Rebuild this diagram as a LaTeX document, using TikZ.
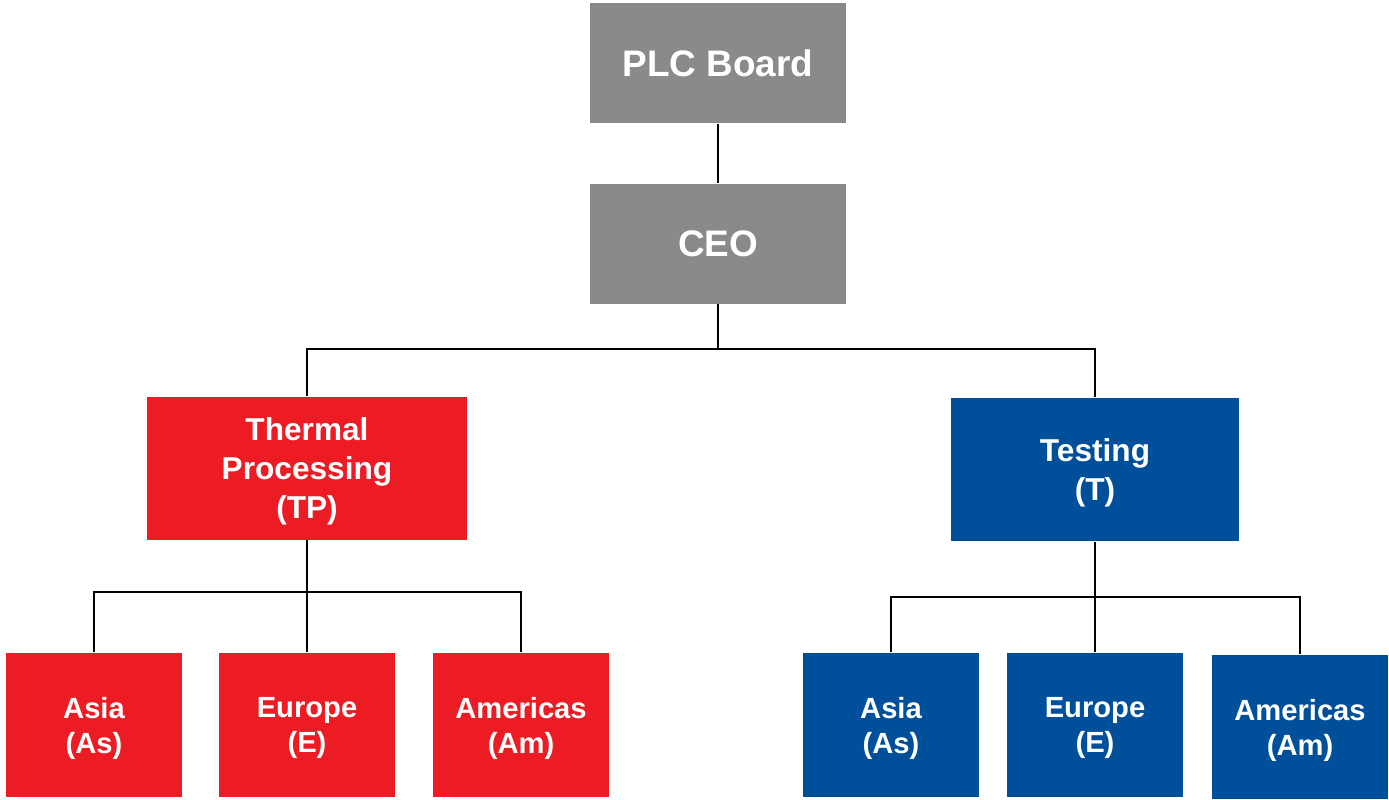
\documentclass[tikz,border=0pt]{standalone}
\usepackage{fontspec}
\setmainfont{Liberation Sans}
\definecolor{plcgray}{RGB}{137,138,140}
\definecolor{tpred}{RGB}{237,28,36}
\definecolor{tblue}{RGB}{0,79,154}
\tikzset{
    unit/.style={rectangle, fill=#1, text=white, inner sep=0pt, align=center, text depth=0pt, font=\bfseries},
    top/.style={unit=plcgray, minimum width=2.56cm, minimum height=1.2cm, font=\bfseries\fontsize{10.5}{12.6}\selectfont},
    division/.style={unit=#1, minimum height=1.43cm, font=\bfseries\fontsize{9}{11}\selectfont},
    region/.style={unit=#1, minimum width=1.76cm, minimum height=1.44cm, font=\bfseries\fontsize{8.3}{10}\selectfont},
    link/.style={line width=0.6pt}
}
\begin{document}
\begin{tikzpicture}
    \useasboundingbox (0,0) rectangle (13.89,-7.99);

    % Draw nodes
    \node[top] (board) at (7.18, -0.63) {PLC Board};
    \node[top] (ceo) at (7.18, -2.435) {CEO};
    \node[division=tpred, minimum width=3.2cm] (tp) at (3.07, -4.68) {Thermal\\Processing\\(TP)};
    \node[division=tblue, minimum width=2.88cm] (t) at (10.95, -4.695) {Testing\\(T)};

    \node[region=tpred] (tpas) at (0.94, -7.25) {Asia\\(As)};
    \node[region=tpred] (tpeu) at (3.07, -7.25) {Europe\\(E)};
    \node[region=tpred] (tpam) at (5.21, -7.25) {Americas\\(Am)};
    \node[region=tblue] (tas) at (8.91, -7.25) {Asia\\(As)};
    \node[region=tblue] (teu) at (10.95, -7.25) {Europe\\(E)};
    \node[region=tblue] (tam) at (13.00, -7.27) {Americas\\(Am)};

    \coordinate (busceo) at (7.18, -3.49);
    \coordinate (bustp) at (3.07, -5.92);
    \coordinate (bust) at (10.95, -5.97);

    % Draw edges
    \draw[link] (board) -- (ceo);
    \draw[link] (ceo.south) -- (busceo);
    \draw[link] (tp.north) |- (busceo) -| (t.north);
    \draw[link] (tp.south) -- (tpeu.north);
    \draw[link] (tpas.north) |- (bustp) -| (tpam.north);
    \draw[link] (t.south) -- (teu.north);
    \draw[link] (tas.north) |- (bust) -| (tam.north);
\end{tikzpicture}
\end{document}
